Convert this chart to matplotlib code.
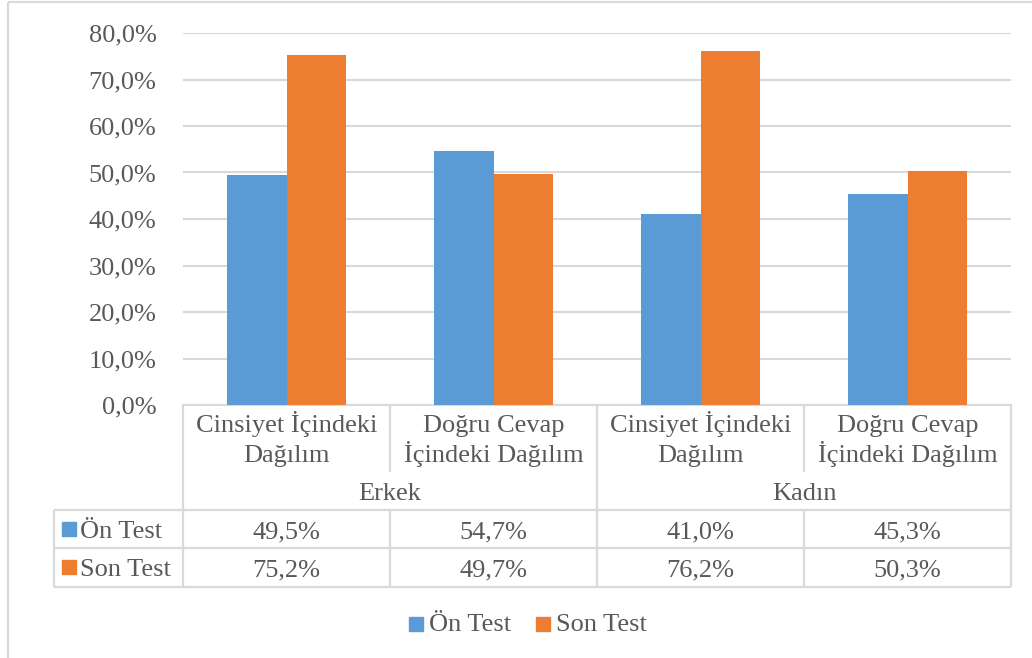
import numpy as np
import matplotlib.pyplot as plt
from matplotlib.patches import Rectangle

plt.rcParams['font.family'] = ['Liberation Serif', 'DejaVu Serif']

categories = ['Cinsiyet İçindeki\nDağılım', 'Doğru Cevap\nİçindeki Dağılım',
              'Cinsiyet İçindeki\nDağılım', 'Doğru Cevap\nİçindeki Dağılım']
groups = ['Erkek', 'Kadın']
series = ['Ön Test', 'Son Test']
on_test = [49.5, 54.7, 41.0, 45.3]
son_test = [75.2, 49.7, 76.2, 50.3]
colors = ['#5b9bd5', '#ed7d31']
yticks = [0, 10, 20, 30, 40, 50, 60, 70, 80]

W, H = 1032, 658
TXT = '#595959'
LN = '#d9d9d9'
FS = 19

fig = plt.figure(figsize=(W / 100, H / 100), dpi=100)

# pixel geometry
x0, x1 = 183, 1011
ytop, ybot = 33, 405

ax = fig.add_axes([x0 / W, 1 - ybot / H, (x1 - x0) / W, (ybot - ytop) / H])
n = len(categories)
x = np.arange(n)
bw = 1 / 3.5
ax.bar(x - bw / 2, on_test, bw, color=colors[0], zorder=3)
ax.bar(x + bw / 2, son_test, bw, color=colors[1], zorder=3)
ax.set_xlim(-0.5, n - 0.5)
ax.set_ylim(0, 80)
ax.set_yticks(yticks)
ax.set_yticklabels([f'{v:.1f}%'.replace('.', ',') for v in yticks], color=TXT, fontsize=FS)
ax.tick_params(axis='y', length=0, pad=19)
ax.set_xticks([])
for s in ['top', 'right', 'left']:
    ax.spines[s].set_visible(False)
ax.spines['bottom'].set_color(LN)
ax.spines['bottom'].set_linewidth(1.5)
ax.yaxis.grid(True, color=LN, linewidth=1.5, zorder=0)
ax.set_axisbelow(True)

# overlay in pixel coordinates for the data table and legend
ov = fig.add_axes([0, 0, 1, 1])
ov.set_xlim(0, W)
ov.set_ylim(H, 0)
ov.axis('off')

def line(xs, ys):
    ov.plot(xs, ys, color=LN, linewidth=1.6, solid_capstyle='butt')

def txt(xp, yb, s, ha='center'):
    ov.text(xp, yb, s, ha=ha, va='baseline', color=TXT, fontsize=FS)

# outer frame
line([8, 8], [2, H])
line([8, W], [2, 2])

cw = (x1 - x0) / n
r_cat, r_grp, r1, r2, r3 = 405, 472, 510, 548, 587
xs_cols = [x0 + i * cw for i in range(n + 1)]
for i, xc in enumerate(xs_cols):
    if i in (0, 2, 4):
        line([xc, xc], [r_cat, r3])
    else:
        line([xc, xc], [r_cat, r_grp])
        line([xc, xc], [r1, r3])
for yy in (r1, r2, r3):
    line([54, x1], [yy, yy])
line([54, 54], [r1, r3])

for i, c in enumerate(categories):
    for li, part in enumerate(c.split('\n')):
        txt(x0 + (i + 0.5) * cw, 432 + 30 * li, part)
for j, g in enumerate(groups):
    txt(x0 + (2 * j + 1) * cw, 500.5, g)

for k, (name, vals) in enumerate(zip(series, [on_test, son_test])):
    yc = [r1, r2][k] + (r2 - r1) / 2
    ov.add_patch(Rectangle((62, yc - 7), 14, 14, color=colors[k]))
    txt(80, yc + 9.5, name, ha='left')
    for i, v in enumerate(vals):
        txt(x0 + (i + 0.5) * cw, yc + 9.5, f'{v:.1f}%'.replace('.', ','))

# legend
leg_y = 624
for k, (name, lx) in enumerate(zip(series, [409, 536])):
    ov.add_patch(Rectangle((lx, leg_y - 7), 14, 14, color=colors[k]))
    txt(lx + 20, 631, name, ha='left')

fig.savefig('out.png', dpi=100)
